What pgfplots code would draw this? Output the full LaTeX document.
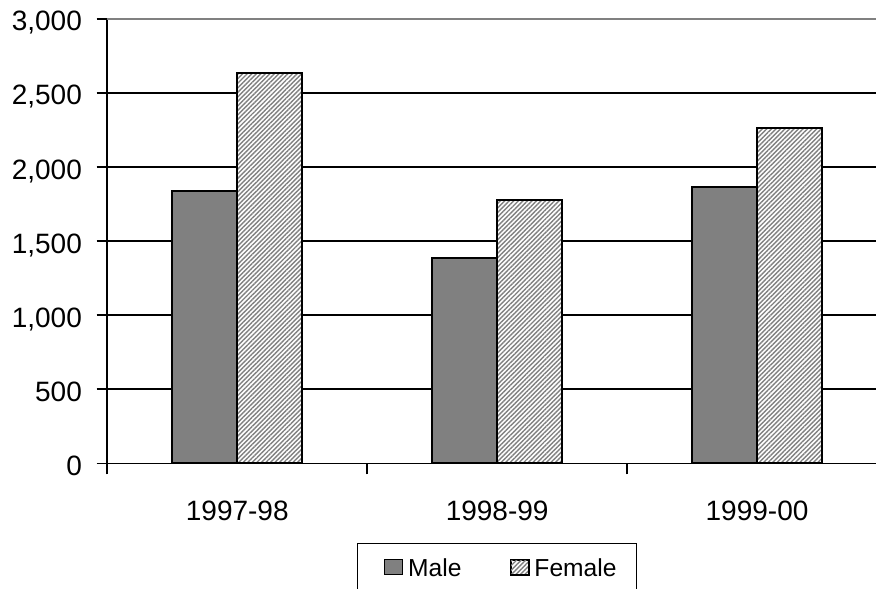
\documentclass[border=0pt]{standalone}
\usepackage{fontspec}
\setmainfont{Liberation Sans}
\usepackage{pgfplots}
\pgfplotsset{compat=1.18}
\usetikzlibrary{patterns.meta}
\definecolor{malegray}{HTML}{808080}
\definecolor{hatchgray}{HTML}{808080}

\pgfplotsset{
    maleimg/.style={legend image code/.code={
        \path (-3pt,0pt);
        \draw[##1, line width=0.5pt] (0pt,-3.75pt) rectangle (9pt,3.75pt);}},
    femaleimg/.style={legend image code/.code={
        \draw[##1, line width=0.5pt] (0pt,-3.75pt) rectangle (9pt,3.75pt);}},
}

\begin{document}
\begin{tikzpicture}
\path[use as bounding box] (-53.65pt,-62.35pt) rectangle (384.35pt,231.65pt);
\begin{axis}[
    at={(0pt,0pt)}, anchor=south west,
    width=384.35pt, height=222.2pt, scale only axis,
    xmin=-0.5, xmax=2.4577, ymin=0, ymax=3000,
    axis lines*=left,
    axis line style={line width=0.8pt, black},
    ybar=0pt, bar width=32.5pt,
    xtick={0,1,2},
    xticklabels={1997-98,1998-99,1999-00},
    major x tick style={draw=none},
    minor xtick={-0.5,0.5,1.5},
    minor x tick style={line width=0.8pt, black},
    minor tick length=5.5pt,
    major tick length=5.3pt,
    tick align=outside,
    ytick={0,500,1000,1500,2000,2500},
    extra y ticks={3000},
    extra y tick style={major grid style={line width=0.75pt, draw=gray}},
    y tick style={line width=0.8pt, black},
    ymajorgrids=true,
    major grid style={line width=0.75pt, draw=black},
    scaled y ticks=false,
    /pgf/number format/1000 sep={,},
    /pgf/number format/assume math mode=true,
    yticklabel style={font=\fontsize{14}{16}\selectfont, anchor=east,
        inner sep=0pt, text height=10pt, text depth=0pt,
        xshift=-7.2pt, yshift=-1pt},
    xticklabel style={font=\fontsize{14}{16}\selectfont, anchor=north,
        inner sep=0pt, text height=10pt, text depth=0pt, yshift=-13.3pt},
    legend columns=2,
    legend style={at={(axis description cs:0,0)}, anchor=north west,
        xshift=124.85pt, yshift=-39.85pt,
        draw=black, line width=0.65pt,
        inner xsep=10pt, inner ysep=7.5pt,
        font=\fontsize{12.3}{14}\selectfont,
        nodes={inner sep=0pt, text height=8.8pt, text depth=0pt},
        /tikz/every odd column/.append style={column sep=2.5pt},
        /tikz/every even column/.append style={column sep=24.5pt}},
]
\addplot[draw=black, line width=1pt, fill=malegray, maleimg]
    coordinates {(0,1840) (1,1384) (2,1867)};
\addplot[draw=black, line width=1pt, preaction={fill=white},
    pattern={Lines[angle=45,distance=1.6pt,line width=0.7pt]},
    pattern color=hatchgray, femaleimg]
    coordinates {(0,2637) (1,1775) (2,2264)};
\legend{Male, Female}
\end{axis}
\end{tikzpicture}
\end{document}
